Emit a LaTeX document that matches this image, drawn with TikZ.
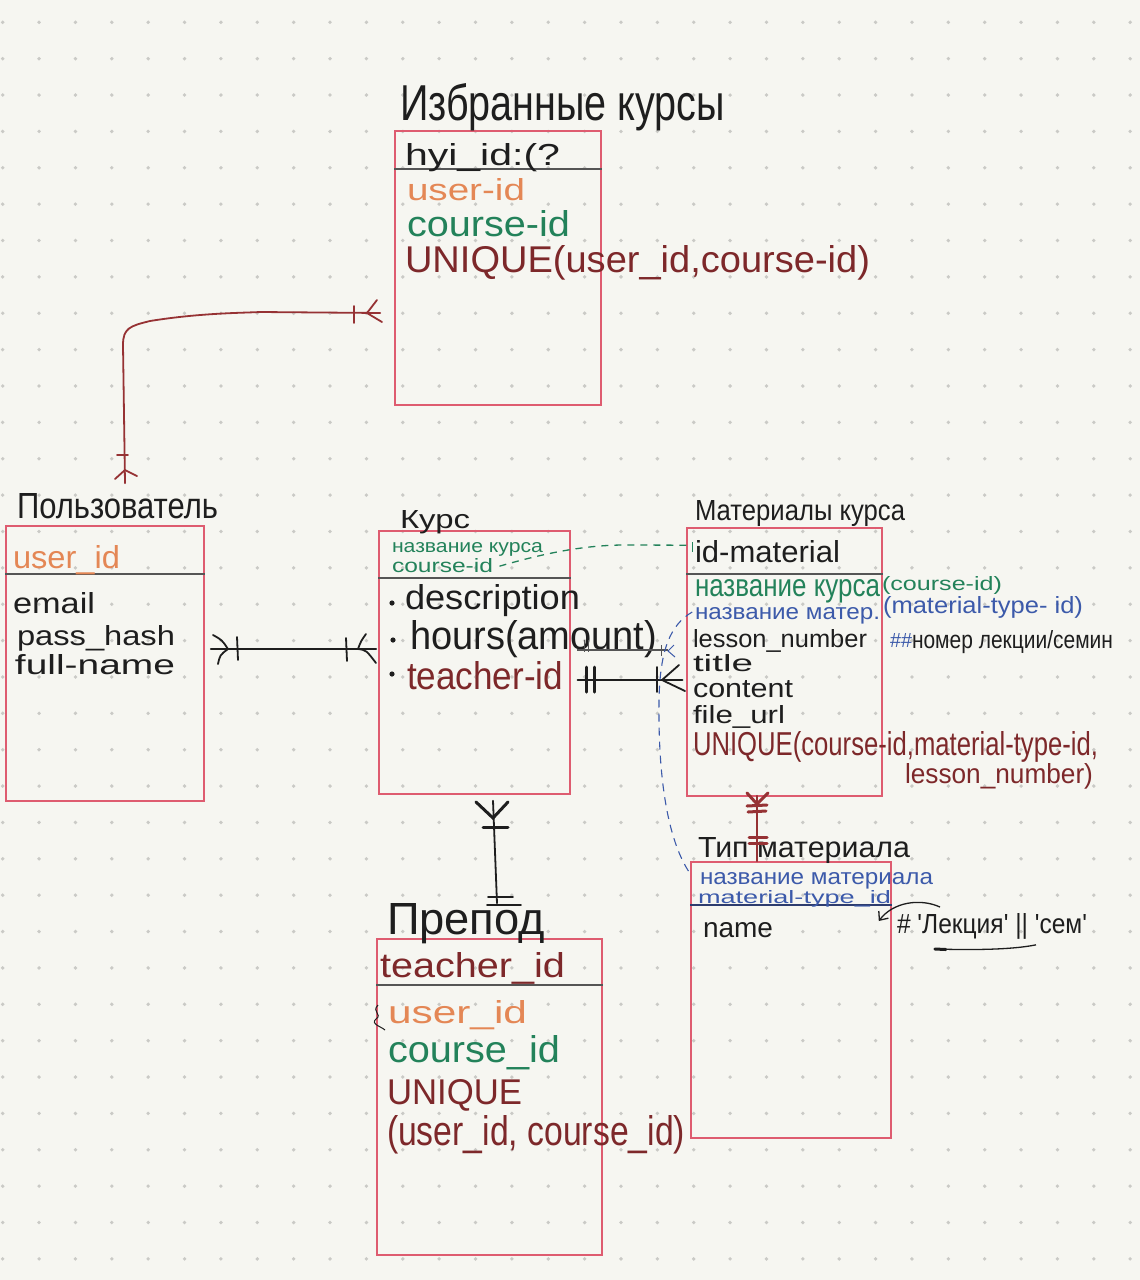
\documentclass[tikz,border=0pt]{standalone}
\usepackage{fontspec}
\setmainfont{Liberation Sans}
\usepackage{graphicx}
\usetikzlibrary{arrows.meta,calc}
\definecolor{bgc}{RGB}{246,246,241}
\definecolor{dotc}{RGB}{202,202,198}
\definecolor{boxc}{RGB}{222,92,112}
\definecolor{hdrc}{RGB}{85,85,85}
\definecolor{navy}{RGB}{45,60,110}
\definecolor{ink}{RGB}{30,30,30}
\definecolor{orng}{RGB}{228,135,85}
\definecolor{grn}{RGB}{35,130,90}
\definecolor{dred}{RGB}{125,40,42}
\definecolor{relred}{RGB}{150,50,52}
\definecolor{blu}{RGB}{60,90,170}
\newcommand\wtxt[7]{\node[txt,text=#4] (#1) at (#2,#3) {\resizebox{#5pt}{#6pt}{#7}};}
\tikzset{
  txt/.style={anchor=base west,inner sep=0pt,outer sep=0pt},
  erbox/.style={draw=boxc,line width=1.6pt,inner sep=0pt,fill=none},
  hdr/.style={draw=hdrc,line width=2pt},
  rel/.style={line width=1.8pt,line cap=round},
  tickln/.style={line width=1.8pt,line cap=round},
  thicktick/.style={line width=3pt,line cap=round},
}
\begin{document}
\begin{tikzpicture}[x=1pt,y=-1pt]
\fill[bgc] (0,0) rectangle (1140,1280);
\useasboundingbox (0,0) rectangle (1140,1280);
% dot grid
\foreach \i in {0,...,31}{\foreach \j in {0,...,34}{
  \fill[dotc] (2.7+36.37*\i,22.3+36.37*\j) circle[radius=1.9pt];}}

% ---------- boxes ----------
\node[erbox,minimum width=206pt,minimum height=274pt] (fav) at (498,268) {};
\node[erbox,minimum width=198pt,minimum height=275pt] (user) at (105,663.5) {};
\node[erbox,minimum width=191pt,minimum height=263pt] (kurs) at (474.5,662.5) {};
\node[erbox,minimum width=195pt,minimum height=268pt] (mat) at (784.5,662) {};
\node[erbox,minimum width=200pt,minimum height=276pt] (typ) at (791,1000) {};
\node[erbox,minimum width=225pt,minimum height=316pt] (prep) at (489.5,1097) {};

% header lines
\draw[hdr] (fav.west |- 0,169) -- (fav.east |- 0,169);
\draw[hdr] (user.west |- 0,574) -- (user.east |- 0,574);
\draw[hdr] (kurs.west |- 0,578) -- (kurs.east |- 0,578);
\draw[hdr] (mat.west |- 0,574) -- (mat.east |- 0,574);
\draw[hdr,draw=navy] (typ.west |- 0,905) -- (typ.east |- 0,905);
\draw[hdr] (prep.west |- 0,985) -- (prep.east |- 0,985);

% ---------- texts: Избранные курсы ----------
\wtxt{tFav}{400}{120}{ink}{325}{37}{Избранные курсы}
\wtxt{tFav1}{405}{165}{ink}{155}{22}{hyi\_id:(?}
\wtxt{tFav2}{407}{200}{orng}{118}{22}{user-id}
\wtxt{tFav3}{407}{236}{grn}{163}{26}{course-id}
\wtxt{tFav4}{405}{272}{dred}{465}{27}{UNIQUE(user\_id,course-id)}

% ---------- Пользователь ----------
\wtxt{tUsr}{17}{518}{ink}{201}{25}{Пользователь}
\wtxt{tUsr1}{13}{568}{orng}{107}{23}{user\_id}
\wtxt{tUsr2}{13}{613}{ink}{82}{21}{email}
\wtxt{tUsr3}{17}{645}{ink}{158}{20}{pass\_hash}
\wtxt{tUsr4}{15}{674}{ink}{160}{20}{full-name}

% ---------- Курс ----------
\wtxt{tKur}{400}{528}{ink}{70}{18}{Курс}
\wtxt{tKur1}{392}{552}{grn}{151}{10}{название курса}
\wtxt{tKur2}{392}{572}{grn}{101}{14}{course-id}
\fill[ink] (392,603) circle[radius=2.6pt];
\fill[ink] (393,640) circle[radius=2.6pt];
\fill[ink] (392,674) circle[radius=2.6pt];
\wtxt{tKur3}{405}{609}{ink}{175}{25}{description}
\wtxt{tKur4}{410}{649}{ink}{247}{29}{hours(amount)}
\wtxt{tKur5}{407}{689}{dred}{156}{28}{teacher-id}

% ---------- Материалы курса ----------
\wtxt{tMat}{695}{520}{ink}{210}{20}{Материалы курса}
\wtxt{tMat1}{695}{562}{ink}{145}{22}{id-material}
\wtxt{tMat2}{695}{596}{grn}{185}{17}{название курса}
\wtxt{tMat3}{882}{590}{grn}{120}{14}{(course-id)}
\wtxt{tMat4}{695}{619}{blu}{185}{12}{название матер.}
\wtxt{tMat5}{883}{613}{blu}{200}{17}{(material-type- id)}
\wtxt{tMat6}{693}{647}{ink}{174}{18}{lesson\_number}
\wtxt{tMat7}{890}{647}{blu}{22}{14}{\#\#}
\wtxt{tMat8}{912}{648}{ink}{201}{18}{номер лекции/семин}
\wtxt{tMat9}{693}{671}{ink}{60}{17}{title}
\wtxt{tMat10}{693}{697}{ink}{100}{17}{content}
\wtxt{tMat11}{693}{723}{ink}{92}{18}{file\_url}
\wtxt{tMat12}{693}{755}{dred}{405}{24}{UNIQUE(course-id,material-type-id,}
\wtxt{tMat13}{905}{783}{dred}{188}{20}{lesson\_number)}

% ---------- Тип материала ----------
\wtxt{tTyp}{698}{857}{ink}{212}{20}{Тип материала}
\wtxt{tTyp1}{700}{884}{blu}{233}{12}{название материала}
\wtxt{tTyp2}{698}{903}{blu}{193}{13}{material-type\_id}
\wtxt{tTyp3}{703}{937}{ink}{70}{15}{name}
\wtxt{tTyp4}{897}{933}{ink}{190}{20}{\# \textquotesingle Лекция\textquotesingle\ || \textquotesingle сем\textquotesingle}

% ---------- Препод ----------
\wtxt{tPre}{387}{934}{ink}{158}{31}{Препод}
\wtxt{tPre1}{380}{977}{dred}{185}{25}{teacher\_id}
\wtxt{tPre2}{388}{1023}{orng}{139}{23}{user\_id}
\wtxt{tPre3}{388}{1062}{grn}{172}{27}{course\_id}
\wtxt{tPre4}{387}{1104}{dred}{135}{25}{UNIQUE}
\wtxt{tPre5}{387}{1145}{dred}{298}{30}{(user\_id, course\_id)}
\draw[ink,line width=1pt] (378,1005) .. controls (371,1012) and (383,1014) .. (376,1019) .. controls (370,1024) and (382,1027) .. (385,1030);

% ---------- connector: Пользователь -- Избранные ----------
\coordinate (c1a) at ($(user.north)+(20,-42)$);
\coordinate (c1b) at ($(fav.west)+(-14,45)$);
\draw[rel,relred] (c1a) -- (123,345) .. controls (123,328) and (130,326) .. (150,321)
   .. controls (200,313) and (240,313) .. (260,312) -- (c1b);
\draw[tickln,relred] (354,306) -- (354,323);
\draw[tickln,relred] (367,313) -- (377,300);
\draw[tickln,relred] (367,313) -- (382,322);
\draw[tickln,relred] (117,455) -- (128,455);
\draw[tickln,relred] (125,470) -- (115,479);
\draw[tickln,relred] (125,470) -- (137,476);

% ---------- connector: Пользователь -- Курс ----------
\coordinate (c2a) at ($(user.east)+(6,-14.5)$);
\coordinate (c2b) at ($(kurs.west)+(-2,-13.5)$);
\draw[rel,ink] (c2a) -- (c2b);
\draw[tickln,ink] (213,635) .. controls (222,640) .. (228,649);
\draw[tickln,ink] (218,664) .. controls (220,655) .. (228,649);
\draw[tickln,ink] (237,637) -- (238,660);
\draw[tickln,ink] (346,638) -- (347,661);
\draw[tickln,ink] (358,649) .. controls (361,641) .. (366,634);
\draw[tickln,ink] (358,649) .. controls (366,650) .. (376,663);

% ---------- connector: Курс -- Материалы ----------
\coordinate (c3a) at ($(kurs.east)+(7,17.5)$);
\coordinate (c3b) at ($(mat.west)+(-4,18)$);
\draw[line width=2.6pt,ink,line cap=round] (c3a) -- (c3b);
\draw[thicktick,ink] (586,667) -- (586,692);
\draw[thicktick,ink] (594,667) -- (594,692);
\draw[tickln,ink] (657,667) -- (657,692);
\draw[tickln,ink] (662,680) -- (679,665);
\draw[tickln,ink] (662,680) -- (685,691);
\draw[line width=1.2pt,hdrc] (577,650) -- (668,650);
\draw[line width=1pt,hdrc] (584,640) -- (584,652);
\draw[line width=1pt,hdrc] (588,640) -- (588,652);
\draw[line width=1pt,hdrc] (661,645) -- (661,656);

% ---------- dashed green: course-id -> id-material ----------
\coordinate (c4a) at ($(kurs.north)+(25,36)$);
\coordinate (c4b) at ($(mat.north west)+(4,18)$);
\draw[grn,line width=1.3pt,dash pattern=on 7pt off 6pt] (c4a) .. controls (545,553) and (585,545) .. (625,545) -- (c4b);
\draw[grn,line width=1pt] (692,542) -- (692,552);

% ---------- dashed blue: название матер. -> Тип материала ----------
\coordinate (c5a) at ($(mat.west)+(6,-50)$);
\coordinate (c5b) at ($(typ.north west)+(-1,11)$);
\draw[blu,line width=1.1pt,dash pattern=on 8pt off 6pt] (c5a) .. controls (670,625) and (660,650) .. (659,700)
   .. controls (658,780) and (668,840) .. (c5b);
\draw[blu,line width=1pt] (674,645) -- (668,651) -- (675,657);

% ---------- connector: Материалы -- Тип ----------
\coordinate (c6a) at ($(mat.south)+(-27.5,-1)$);
\coordinate (c6b) at ($(typ.north)+(-34,0)$);
\draw[rel,relred] (c6a) -- (c6b);
\draw[thicktick,relred] (747,793) -- (757,804) -- (768,793);
\draw[thicktick,relred] (747,806) -- (767,805);
\draw[thicktick,relred] (748,812) -- (766,811);
\draw[thicktick,relred] (749,837) -- (767,837);
\draw[thicktick,relred] (749,843) -- (767,843);

% ---------- connector: Курс -- Препод ----------
\coordinate (c7a) at ($(kurs.south)+(18.5,6)$);
\coordinate (c7b) at ($(prep.north)+(7.5,-35)$);
\draw[rel,ink] (c7a) -- (c7b);
\draw[thicktick,ink] (476,802) -- (493,818) -- (508,802);
\draw[thicktick,ink] (483,827) -- (508,827);
\draw[tickln,ink] (488,897) -- (513,897);
\draw[tickln,ink] (487,905) -- (521,905);

% ---------- annotation arrows near name ----------
\coordinate (n1a) at ($(tTyp4.north west)+(43,-6)$);
\coordinate (n1b) at ($(typ.east)+(-13,-79)$);
\draw[ink,line width=1.3pt,-{Straight Barb[length=7pt,width=12pt]}] (n1a) .. controls (920,898) and (893,902) .. (n1b);
\coordinate (n2a) at ($(tTyp4.south east)+(-51,6)$);
\coordinate (n2b) at ($(typ.east)+(43,-51)$);
\draw[ink,line width=1.3pt] (n2a) .. controls (1010,950) and (970,950) .. (n2b);
\draw[ink,line width=3pt,line cap=round] (n2b) -- ++(11,0.5);
\end{tikzpicture}
\end{document}
